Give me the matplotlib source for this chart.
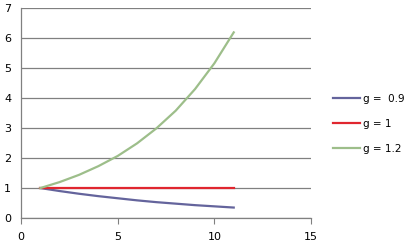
import matplotlib
matplotlib.use("Agg")
import matplotlib.pyplot as plt

x = [1, 2, 3, 4, 5, 6, 7, 8, 9, 10, 11]
g09 = [1.0, 0.9, 0.81, 0.73, 0.66, 0.59, 0.53, 0.48, 0.43, 0.39, 0.35]
g10 = [1.0, 1.0, 1.0, 1.0, 1.0, 1.0, 1.0, 1.0, 1.0, 1.0, 1.0]
g12 = [1.0, 1.2, 1.44, 1.73, 2.07, 2.49, 2.99, 3.58, 4.30, 5.16, 6.19]
labels = ["g =  0.9", "g = 1", "g = 1.2"]
colors = ["#64649c", "#e0262f", "#9dbe8a"]

fig = plt.figure(figsize=(4.04, 2.45), dpi=100)
ax = fig.add_axes([0.052, 0.110, 0.718, 0.857])
for y, lab, c in zip([g09, g10, g12], labels, colors):
    ax.plot(x, y, color=c, lw=1.6, label=lab)

ax.set_xlim(0, 15)
ax.set_ylim(0, 7)
ax.set_xticks([0, 5, 10, 15])
ax.set_yticks(range(0, 8))
ax.yaxis.grid(True, color="#808080", lw=0.9)
ax.set_axisbelow(True)
for s in ["top", "right"]:
    ax.spines[s].set_visible(False)
for s in ["left", "bottom"]:
    ax.spines[s].set_color("#808080")
    ax.spines[s].set_linewidth(0.9)
ax.tick_params(axis="x", direction="out", length=4, color="#808080", labelsize=8, pad=6)
ax.tick_params(axis="y", length=0, labelsize=8, pad=7)

leg = ax.legend(loc="center left", bbox_to_anchor=(1.076, 0.448), frameon=False,
                fontsize=7.5, handlelength=2.6, handletextpad=0.25, labelspacing=1.45,
                borderpad=0, borderaxespad=0)
fig.savefig("out.png", dpi=100)
